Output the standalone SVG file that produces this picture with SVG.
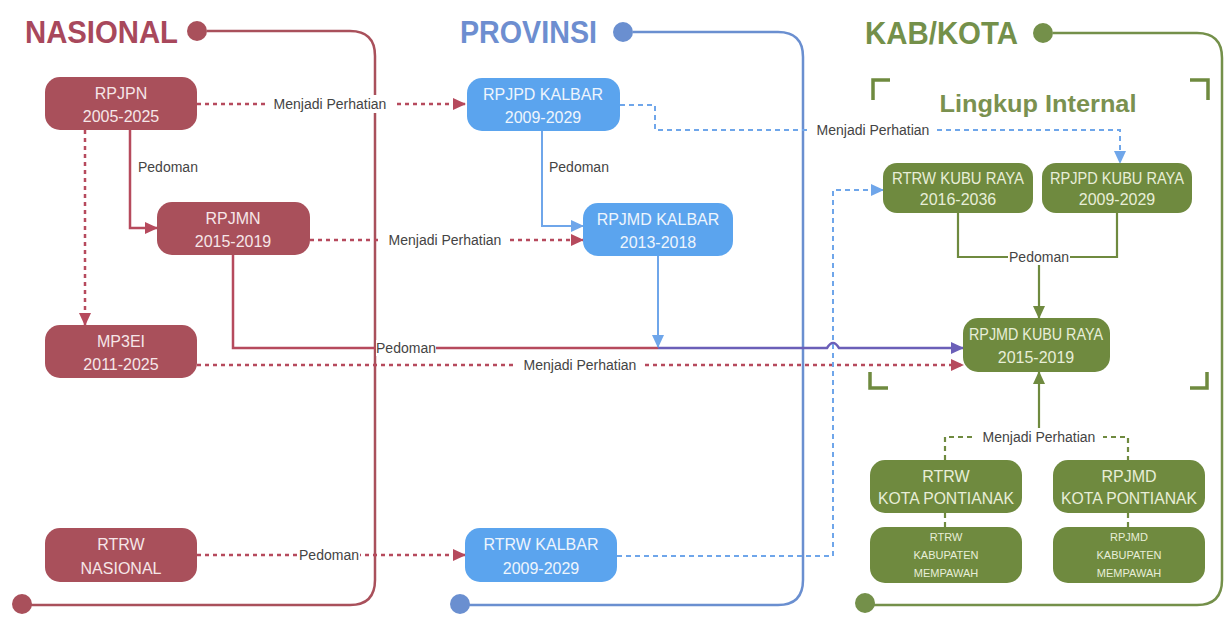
<svg xmlns="http://www.w3.org/2000/svg" width="1225" height="618" viewBox="0 0 1225 618">
<style>
.title{font-family:"Liberation Sans",Arial,sans-serif;font-weight:bold;font-size:32px}
.bx{font-family:"Liberation Sans",Arial,sans-serif;font-size:16px;text-anchor:middle}
.sm{font-family:"Liberation Sans",Arial,sans-serif;font-size:11px;text-anchor:middle}
.lbl{font-family:"Liberation Sans",Arial,sans-serif;font-size:14px;fill:#444;text-anchor:middle;dominant-baseline:central}
.red{fill:#A9505B}
.blue{fill:#5BA4EE}
.green{fill:#6F8A3F}
.cr{stroke:#B64A5D;stroke-width:2.5;fill:none}
.cb{stroke:#6FA6EA;stroke-width:2;fill:none}
.cp{stroke:#6B5FB8;stroke-width:2.5;fill:none}
.cg{stroke:#6F8A3F;stroke-width:2.2;fill:none}
.dot{stroke-dasharray:4 4}
.dash{stroke-dasharray:5 4}
.frame{stroke-width:2.5;fill:none}
</style>
<defs>
<marker id="ar" markerUnits="userSpaceOnUse" markerWidth="14" markerHeight="14" refX="12" refY="7" orient="auto"><path d="M0,1 L13,7 L0,13 Z" fill="#B64A5D"/></marker>
<marker id="ab" markerUnits="userSpaceOnUse" markerWidth="14" markerHeight="14" refX="12" refY="7" orient="auto"><path d="M0,1 L13,7 L0,13 Z" fill="#6FA6EA"/></marker>
<marker id="ap" markerUnits="userSpaceOnUse" markerWidth="14" markerHeight="14" refX="12" refY="7" orient="auto"><path d="M0,1 L13,7 L0,13 Z" fill="#6B5FB8"/></marker>
<marker id="ag" markerUnits="userSpaceOnUse" markerWidth="14" markerHeight="14" refX="12" refY="7" orient="auto"><path d="M0,1 L13,7 L0,13 Z" fill="#6F8A3F"/></marker>
</defs>
<rect width="1225" height="618" fill="#fff"/>

<!-- column frames -->
<g id="col-nasional">
<path class="frame" stroke="#A9505B" d="M207,31 H350 Q375,31 375,56 V580 Q375,605 350,605 H22"/>
<circle cx="197" cy="31" r="10" fill="#A9505B"/>
<circle cx="22" cy="604" r="10" fill="#A9505B"/>
<text class="title" x="25" y="43" fill="#A8485C" textLength="153" lengthAdjust="spacingAndGlyphs">NASIONAL</text>
</g>
<g id="col-provinsi">
<path class="frame" stroke="#6A8FD0" d="M633,32 H778 Q803,32 803,57 V580 Q803,605 778,605 H460"/>
<circle cx="623" cy="32" r="10" fill="#6A8FD0"/>
<circle cx="460" cy="604" r="10" fill="#6A8FD0"/>
<text class="title" x="460" y="43" fill="#6D8ED0" textLength="137" lengthAdjust="spacingAndGlyphs">PROVINSI</text>
</g>
<g id="col-kab">
<path class="frame" stroke="#74904A" d="M1053,33 H1197 Q1222,33 1222,58 V580 Q1222,605 1197,605 H865"/>
<circle cx="1043" cy="33" r="10" fill="#74904A"/>
<circle cx="865" cy="603" r="10" fill="#74904A"/>
<text class="title" x="865" y="44" fill="#74904A" textLength="153" lengthAdjust="spacingAndGlyphs">KAB/KOTA</text>
</g>

<g id="lingkup-internal">
<path d="M873,100 V80 H890 M1190,80 H1208 V100 M870,372 V388 H888 M1190,388 H1207 V372" stroke="#6F8A3F" stroke-width="3.5" fill="none"/>
<text x="1038" y="112" font-family="Liberation Sans,Arial,sans-serif" font-weight="bold" font-size="24" fill="#7A9150" text-anchor="middle" textLength="197" lengthAdjust="spacingAndGlyphs">Lingkup Internal</text>
</g>

<!-- connectors -->
<g id="connectors">
<path class="cr dot" d="M197,104 H465" marker-end="url(#ar)"/>
<path class="cr" d="M130,130 V228 H157" marker-end="url(#ar)"/>
<path class="cr dot" d="M85,130 V325" marker-end="url(#ar)"/>
<path class="cr dot" d="M310,240 H583" marker-end="url(#ar)"/>
<path class="cb" d="M542,131 V226 H583" marker-end="url(#ab)"/>
<path class="cr" d="M233,255 V348 H658"/>
<path class="cp" d="M658,348 H827 Q833,338 839,348 H963" marker-end="url(#ap)"/>
<path class="cb" d="M658,256 V347" marker-end="url(#ab)"/>
<path class="cr dot" d="M197,365 H963" marker-end="url(#ar)"/>
<path class="cb dash" d="M620,105 H655 V130 H1120 V163" marker-end="url(#ab)"/>
<path class="cr dot" d="M197,555 H465" marker-end="url(#ar)"/>
<path class="cb dash" d="M617,556 H833 V190 H883" marker-end="url(#ab)"/>
<path class="cg" d="M958,213 V257 H1117 V213 M1039,257 V318" marker-end="url(#ag)"/>
<path class="cg dash" stroke-width="1.6" d="M945,460 V437 H1128 V460 M945,513 V527 M1128,513 V527"/>
<path class="cg" d="M1039,432 V372" marker-end="url(#ag)"/>
<g id="labels">
<rect x="266" y="95" width="128" height="18" fill="#fff"/>
<text class="lbl" x="330" y="104">Menjadi Perhatian</text>
<text class="lbl" x="138" y="167" style="text-anchor:start">Pedoman</text>
<rect x="381" y="231" width="128" height="18" fill="#fff"/>
<text class="lbl" x="445" y="240">Menjadi Perhatian</text>
<text class="lbl" x="549" y="167" style="text-anchor:start">Pedoman</text>
<rect x="376" y="340" width="60" height="16" fill="#fff"/>
<text class="lbl" x="406" y="348">Pedoman</text>
<rect x="516" y="357" width="128" height="17" fill="#fff"/>
<text class="lbl" x="580" y="365">Menjadi Perhatian</text>
<rect x="809" y="121" width="128" height="18" fill="#fff"/>
<text class="lbl" x="873" y="130">Menjadi Perhatian</text>
<rect x="298" y="546" width="62" height="18" fill="#fff"/>
<text class="lbl" x="329" y="555">Pedoman</text>
<rect x="1008" y="249" width="62" height="16" fill="#fff"/>
<text class="lbl" x="1039" y="257">Pedoman</text>
<rect x="975" y="428" width="128" height="18" fill="#fff"/>
<text class="lbl" x="1039" y="437">Menjadi Perhatian</text>
</g>
</g>

<!-- nodes -->
<g id="rpjpn"><rect class="red" x="45" y="77" width="152" height="53" rx="15"/><text class="bx" x="121" y="99" fill="#F6E6E8">RPJPN</text><text class="bx" x="121" y="122" fill="#F6E6E8">2005-2025</text></g>
<g id="rpjmn"><rect class="red" x="157" y="202" width="153" height="53" rx="15"/><text class="bx" x="233" y="224" fill="#F6E6E8">RPJMN</text><text class="bx" x="233" y="247" fill="#F6E6E8">2015-2019</text></g>
<g id="mp3ei"><rect class="red" x="45" y="325" width="152" height="53" rx="15"/><text class="bx" x="121" y="347" fill="#F6E6E8">MP3EI</text><text class="bx" x="121" y="370" fill="#F6E6E8">2011-2025</text></g>
<g id="rtrw-nasional"><rect class="red" x="45" y="528" width="152" height="54" rx="15"/><text class="bx" x="121" y="550" fill="#F6E6E8">RTRW</text><text class="bx" x="121" y="574" fill="#F6E6E8">NASIONAL</text></g>

<g id="rpjpd-kalbar"><rect class="blue" x="467" y="78" width="153" height="53" rx="15"/><text class="bx" x="543" y="100" fill="#EEF5FD">RPJPD KALBAR</text><text class="bx" x="543" y="123" fill="#EEF5FD">2009-2029</text></g>
<g id="rpjmd-kalbar"><rect class="blue" x="583" y="203" width="150" height="53" rx="15"/><text class="bx" x="658" y="225" fill="#EEF5FD">RPJMD KALBAR</text><text class="bx" x="658" y="248" fill="#EEF5FD">2013-2018</text></g>
<g id="rtrw-kalbar"><rect class="blue" x="465" y="528" width="152" height="54" rx="15"/><text class="bx" x="541" y="550" fill="#EEF5FD">RTRW KALBAR</text><text class="bx" x="541" y="574" fill="#EEF5FD">2009-2029</text></g>

<g id="rtrw-kuburaya"><rect class="green" x="883" y="163" width="150" height="50" rx="14"/><text class="bx" x="958" y="184" fill="#E8EED8" font-size="13" textLength="132" lengthAdjust="spacingAndGlyphs">RTRW KUBU RAYA</text><text class="bx" x="958" y="205" fill="#E8EED8" font-size="13">2016-2036</text></g>
<g id="rpjpd-kuburaya"><rect class="green" x="1042" y="163" width="150" height="50" rx="14"/><text class="bx" x="1117" y="184" fill="#E8EED8" font-size="13" textLength="134" lengthAdjust="spacingAndGlyphs">RPJPD KUBU RAYA</text><text class="bx" x="1117" y="205" fill="#E8EED8" font-size="13">2009-2029</text></g>
<g id="rpjmd-kuburaya"><rect class="green" x="963" y="318" width="147" height="54" rx="15"/><text class="bx" x="1036" y="340" fill="#E8EED8" font-size="14" textLength="134" lengthAdjust="spacingAndGlyphs">RPJMD KUBU RAYA</text><text class="bx" x="1036" y="363" fill="#E8EED8" font-size="14">2015-2019</text></g>
<g id="rtrw-pontianak"><rect class="green" x="870" y="460" width="152" height="53" rx="15"/><text class="bx" x="946" y="482" fill="#E8EED8" font-size="13">RTRW</text><text class="bx" x="946" y="504" fill="#E8EED8" font-size="13" textLength="136" lengthAdjust="spacingAndGlyphs">KOTA PONTIANAK</text></g>
<g id="rpjmd-pontianak"><rect class="green" x="1053" y="460" width="152" height="53" rx="15"/><text class="bx" x="1129" y="482" fill="#E8EED8" font-size="13">RPJMD</text><text class="bx" x="1129" y="504" fill="#E8EED8" font-size="13" textLength="136" lengthAdjust="spacingAndGlyphs">KOTA PONTIANAK</text></g>
<g id="rtrw-mempawah"><rect class="green" x="870" y="527" width="152" height="56" rx="15"/><text class="sm" x="946" y="541" fill="#E8EED8">RTRW</text><text class="sm" x="946" y="559" fill="#E8EED8">KABUPATEN</text><text class="sm" x="946" y="577" fill="#E8EED8">MEMPAWAH</text></g>
<g id="rpjmd-mempawah"><rect class="green" x="1053" y="527" width="152" height="56" rx="15"/><text class="sm" x="1129" y="541" fill="#E8EED8">RPJMD</text><text class="sm" x="1129" y="559" fill="#E8EED8">KABUPATEN</text><text class="sm" x="1129" y="577" fill="#E8EED8">MEMPAWAH</text></g>
</svg>
